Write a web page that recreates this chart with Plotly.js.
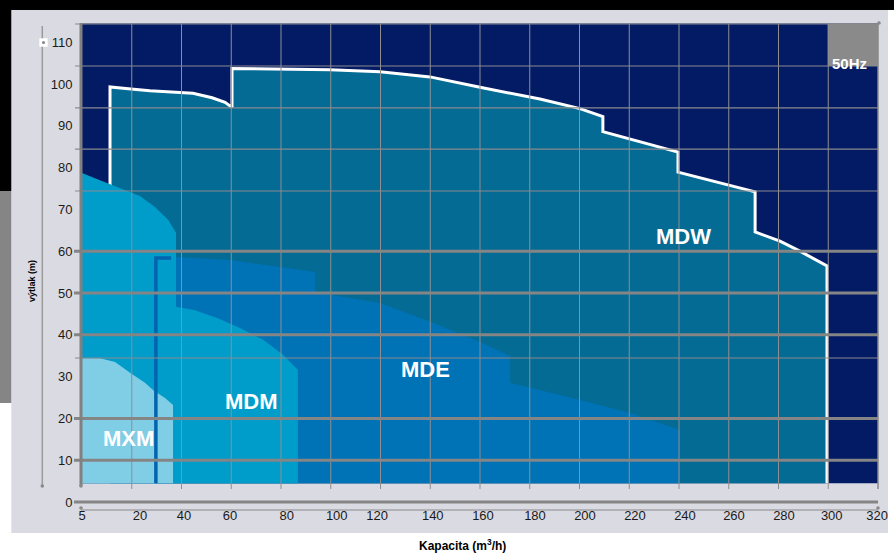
<!DOCTYPE html>
<html><head><meta charset="utf-8">
<script src="https://cdn.plot.ly/plotly-3.0.1.min.js"></script>
<style>html,body{margin:0;padding:0;background:#fff}#chart{width:894px;height:553px}</style>
</head><body><div id="chart"></div>
<script>
// ---------- data ----------
const xTickLabels = ['5','20','40','60','80','100','120','140','160','180','200','220','240','260','280','300','320'];
const xTickPos    = [0, 23.3, 41, 59.5, 82.3, 102.4, 118.6, 141, 161.2, 182.1, 202.2, 222.3, 242.4, 262.1, 282.2, 301.4, 319.6];
const yTickVals   = [0,10,20,30,40,50,60,70,80,90,100,110];
const yTickLabels = ['0','10','20','30','40','50','60','70','80','90','100','110'];
const chartBottom = 4.5;
const chartTop = 114.5;

// MDW envelope (top outline)
const mdwX = [11.26, 11.26, 19.7, 27.3, 44.6, 52.3, 57.5, 60.3, 60.3, 79.6, 99.7, 119.8, 139.9, 160.0, 184.1, 200.2, 209.4, 209.4, 224.3, 239.6, 239.6, 256.5, 270.6, 270.6, 280.6, 288.6, 299.5];
const mdwY = [75.1, 99.3, 98.8, 98.4, 97.8, 96.7, 95.6, 94.4, 103.7, 103.6, 103.4, 102.9, 101.7, 99.2, 96.4, 94.1, 92.2, 88.6, 86.1, 83.7, 78.9, 76.3, 74.2, 64.6, 62.4, 60.0, 56.5];
// MDE envelope
const mdeX = [29.3, 37.8, 59.5, 79.6, 93.7, 93.7, 119.8, 139.9, 160.0, 172.1, 172.1, 200.2, 220.3, 240.4];
const mdeY = [58.6, 58.6, 57.9, 56.2, 55.0, 50.2, 47.6, 43.1, 38.3, 34.9, 28.5, 24.4, 21.3, 17.2];
// MDM envelope
const mdmX = [0, 7.2, 15.3, 23.3, 29.3, 34.6, 37.8, 37.8, 45.4, 54.3, 63.5, 72.8, 80.8, 86.8];
const mdmY = [78.7, 77.0, 75.1, 73.2, 70.6, 67.5, 64.4, 46.7, 45.9, 44.0, 41.6, 38.8, 35.2, 31.6];
// MXM envelope
const mxmX = [0, 7.2, 13.3, 19.3, 25.3, 28.9, 33.4, 36.6];
const mxmY = [34.4, 34.4, 33.5, 30.9, 28.5, 26.6, 24.9, 23.2];
// MDE edge strip
const stripX = [35.8, 29.7, 29.7];
const stripY = [58.4, 58.4, 4.5];

const labelText = ['MDW','MDE','MDM','MXM'];
const labelX = [242.0, 137.9, 68.3, 18.6];
const labelY = [63.4, 31.6, 24.0, 15.2];

// ---------- helpers ----------
const FONT = 'Liberation Sans, Arial, sans-serif';
const L = 82, R = 16, T = 21, B = 47, W = 894, H = 553;
const PW = W - L - R, PH = H - T - B;
const xp = px => (px - L) / PW;
const yp = py => (H - B - py) / PH;

function closeArea(xs, ys) {
  return { x: [xs[0], ...xs, xs[xs.length-1]], y: [chartBottom, ...ys, chartBottom] };
}
function area(xs, ys, color) {
  const c = closeArea(xs, ys);
  return { type: 'scatter', mode: 'lines', x: c.x, y: c.y, fill: 'toself', fillcolor: color,
           line: { width: 0, color: color }, hoverinfo: 'skip' };
}

const traces = [
  area(mdwX, mdwY, '#046b95'),
  { type: 'scatter', mode: 'lines', x: [...mdwX, mdwX[mdwX.length-1]], y: [...mdwY, chartBottom],
    line: { color: '#ffffff', width: 3 }, hoverinfo: 'skip' },
  area(mdeX, mdeY, '#0073b6'),
  area(mdmX, mdmY, '#009dcb'),
  area(mxmX, mxmY, '#80cde6'),
  { type: 'scatter', mode: 'lines', x: stripX, y: stripY, line: { color: '#0064ae', width: 3.5 }, hoverinfo: 'skip' }
];

const shapes = [];
function pRect(x0, y0, x1, y1, color) {
  shapes.push({ type: 'rect', xref: 'paper', yref: 'paper', x0: xp(x0), x1: xp(x1), y0: yp(y1), y1: yp(y0),
                fillcolor: color, line: { width: 0 }, layer: 'below' });
}
function pLine(x0, y0, x1, y1, color, width) {
  shapes.push({ type: 'line', xref: 'paper', yref: 'paper', x0: xp(x0), x1: xp(x1), y0: yp(y0), y1: yp(y1),
                line: { color: color, width: width }, layer: 'above' });
}
// page decorations
pRect(11.3, 10, 888, 533, '#dadae2');
pRect(0, 0, 894, 10, '#000000');
pRect(0, 0, 11.3, 191, '#000000');
pRect(0, 191, 11.3, 403, '#858585');
// navy plot area + 50Hz box
shapes.push({ type: 'rect', xref: 'x', yref: 'y', x0: 0, x1: 320, y0: chartBottom, y1: chartTop,
              fillcolor: '#021b64', line: { width: 0 }, layer: 'below' });
shapes.push({ type: 'rect', xref: 'x', yref: 'y', x0: 299.8, x1: 320, y0: 104.3, y1: chartTop,
              fillcolor: '#8a8a8a', line: { width: 0 }, layer: 'below' });
// vertical grid
for (let v = 20; v <= 300; v += 20) {
  shapes.push({ type: 'line', xref: 'x', yref: 'y', x0: v, x1: v, y0: 3.1, y1: chartTop,
                line: { color: '#8e8e92', width: 1 }, layer: 'above' });
}
// horizontal thin lines
[34.45, 74.4, 84.4, 94.3, 104.3, 114.35].forEach(v => {
  shapes.push({ type: 'line', xref: 'paper', yref: 'y', x0: xp(75), x1: 1, y0: v, y1: v,
                line: { color: '#8a8a8e', width: 1.2 }, layer: 'above' });
});
// horizontal thick lines
[0, 10, 20, 40, 50, 60].forEach(v => {
  shapes.push({ type: 'line', xref: 'paper', yref: 'y', x0: xp(74), x1: 1, y0: v, y1: v,
                line: { color: '#858585', width: 3 }, layer: 'above' });
});
// axis line under the zero line
pLine(81, 510, 878, 510, '#8a8a8a', 1.2);
// left / right borders
pLine(81, 486, 81, 23, '#808080', 3);
pLine(878, 489, 878, 23, '#8a8a8a', 1.5);
// decorative y axis line
pLine(42.3, 486, 42.3, 26, '#9a9a9a', 1.5);
// white square
shapes.push({ type: 'rect', xref: 'paper', yref: 'paper', x0: xp(39.3), x1: xp(47.7), y0: yp(46.7), y1: yp(38.3),
              fillcolor: '#ffffff', line: { width: 0 }, layer: 'above' });
function dot(px, py, r, c) {
  shapes.push({ type: 'circle', xref: 'paper', yref: 'paper', x0: xp(px - r), x1: xp(px + r), y0: yp(py + r), y1: yp(py - r),
                fillcolor: c, line: { width: 0 }, layer: 'above' });
}
dot(43.5, 42.5, 1.6, '#8a8a8a');
dot(42.3, 486, 1.8, '#8a8a8a');
dot(81, 486, 1.8, '#8a8a8a');
dot(81, 508, 1.8, '#8a8a8a');
dot(878, 508, 1.8, '#8a8a8a');
dot(879, 23, 1.8, '#8a8a8a');

const annotations = labelText.map((t, i) => ({
  xref: 'x', yref: 'y', x: labelX[i], y: labelY[i], text: t, showarrow: false,
  xanchor: 'center', yanchor: 'middle',
  font: { family: FONT, size: 22, color: '#ffffff', weight: 'bold' }
}));
annotations.push({ xref: 'x', yref: 'y', x: 308.7, y: 104.9, text: '50Hz', showarrow: false,
  xanchor: 'center', yanchor: 'middle',
  font: { family: FONT, size: 15, color: '#ffffff', weight: 'bold' } });
annotations.push({ xref: 'paper', yref: 'paper', x: xp(462), y: yp(545), text: 'Kapacita (m<sup>3</sup>/h)',
  xanchor: 'center', yanchor: 'middle',
  showarrow: false, font: { family: FONT, size: 12, color: '#000000', weight: 'bold' } });
annotations.push({ xref: 'paper', yref: 'paper', x: xp(32), y: yp(281), text: 'výtlak (m)', textangle: -90,
  xanchor: 'center', yanchor: 'middle',
  showarrow: false, font: { family: FONT, size: 9, color: '#000000', weight: 'bold' } });

const layout = {
  width: W, height: H,
  margin: { l: L, r: R, t: T, b: B, pad: 0 },
  paper_bgcolor: '#ffffff', plot_bgcolor: 'rgba(0,0,0,0)',
  showlegend: false,
  xaxis: { range: [0, 320], tickmode: 'array', tickvals: xTickPos, ticktext: xTickLabels,
           showgrid: false, zeroline: false, showline: false,
           ticks: '', tickfont: { family: FONT, size: 13, color: '#1a1a1a' }, fixedrange: true },
  yaxis: { range: [-0.957, 115.07], tickmode: 'array', tickvals: yTickVals, ticktext: yTickLabels,
           showgrid: false, zeroline: false, showline: false,
           ticks: 'outside', ticklen: 6, tickcolor: 'rgba(0,0,0,0)',
           tickfont: { family: FONT, size: 13, color: '#1a1a1a' }, fixedrange: true },
  shapes: shapes,
  annotations: annotations
};

Plotly.newPlot('chart', traces, layout, { displayModeBar: false, staticPlot: true });
</script>
</body></html>
